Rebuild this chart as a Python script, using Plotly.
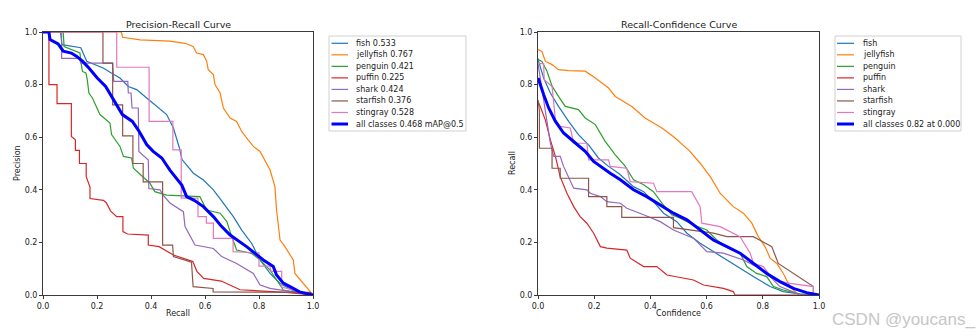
import plotly.graph_objects as go

# ---------------- data ----------------
classes = ["fish", "jellyfish", "penguin", "puffin", "shark", "starfish", "stingray"]
class_ap50 = [0.533, 0.767, 0.421, 0.225, 0.424, 0.376, 0.528]
class_colors = ["#1f77b4", "#ff7f0e", "#2ca02c", "#d62728", "#9467bd", "#8c564b", "#e377c2"]
all_map50 = 0.468
best_recall = 0.82
best_conf = 0.000

# Precision-Recall curves (recall, precision)
fish_pr_r = [0.0, 0.065, 0.07, 0.14, 0.162, 0.223, 0.253, 0.285, 0.316, 0.347, 0.384, 0.421, 0.458, 0.483, 0.495, 0.505, 0.515, 0.557, 0.594, 0.631, 0.668, 0.705, 0.736, 0.773, 0.804, 0.841, 0.878, 0.93, 1.0]
fish_pr_p = [1.0, 1.0, 0.952, 0.94, 0.889, 0.863, 0.844, 0.825, 0.793, 0.781, 0.749, 0.717, 0.686, 0.635, 0.597, 0.56, 0.515, 0.463, 0.437, 0.40, 0.349, 0.298, 0.247, 0.196, 0.133, 0.082, 0.044, 0.015, 0.0]

jelly_pr_r = [0.0, 0.29, 0.295, 0.36, 0.47, 0.526, 0.556, 0.569, 0.594, 0.606, 0.612, 0.631, 0.637, 0.656, 0.668, 0.693, 0.717, 0.736, 0.754, 0.779, 0.804, 0.822, 0.841, 0.859, 0.865, 0.878, 0.896, 0.927, 0.933, 1.0]
jelly_pr_p = [1.0, 1.0, 0.98, 0.97, 0.965, 0.957, 0.945, 0.92, 0.914, 0.889, 0.857, 0.838, 0.80, 0.768, 0.711, 0.673, 0.66, 0.622, 0.597, 0.565, 0.546, 0.51, 0.475, 0.412, 0.323, 0.209, 0.184, 0.133, 0.082, 0.0]

peng_pr_r = [0.0, 0.075, 0.078, 0.137, 0.14, 0.146, 0.159, 0.164, 0.17, 0.183, 0.211, 0.248, 0.254, 0.285, 0.298, 0.328, 0.335, 0.371, 0.396, 0.414, 0.458, 0.581, 0.606, 0.656, 0.681, 0.693, 0.717, 0.773, 0.804, 0.841, 0.89, 1.0]
peng_pr_p = [1.0, 1.0, 0.945, 0.92, 0.889, 0.85, 0.844, 0.819, 0.768, 0.749, 0.686, 0.654, 0.61, 0.565, 0.527, 0.521, 0.482, 0.45, 0.425, 0.393, 0.38, 0.374, 0.323, 0.311, 0.279, 0.241, 0.171, 0.158, 0.133, 0.095, 0.019, 0.0]

puffin_pr_r = [0.0, 0.022, 0.022, 0.052, 0.052, 0.105, 0.105, 0.12, 0.12, 0.135, 0.135, 0.16, 0.16, 0.174, 0.174, 0.224, 0.235, 0.25, 0.273, 0.296, 0.296, 0.313, 0.39, 0.39, 0.43, 0.45, 0.483, 0.555, 0.57, 0.595, 0.66, 0.70, 0.73, 0.9, 1.0]
puffin_pr_p = [1.0, 1.0, 0.80, 0.80, 0.728, 0.728, 0.603, 0.59, 0.55, 0.55, 0.50, 0.50, 0.45, 0.41, 0.367, 0.36, 0.35, 0.32, 0.298, 0.298, 0.241, 0.232, 0.228, 0.19, 0.184, 0.171, 0.152, 0.127, 0.09, 0.063, 0.053, 0.034, 0.02, 0.01, 0.0]

shark_pr_r = [0.0, 0.069, 0.069, 0.135, 0.14, 0.258, 0.262, 0.314, 0.316, 0.326, 0.33, 0.353, 0.355, 0.39, 0.392, 0.433, 0.445, 0.47, 0.52, 0.526, 0.563, 0.631, 0.662, 0.717, 0.779, 0.804, 0.841, 1.0]
shark_pr_p = [1.0, 1.0, 0.90, 0.90, 0.882, 0.882, 0.812, 0.812, 0.768, 0.768, 0.711, 0.711, 0.546, 0.513, 0.405, 0.40, 0.38, 0.35, 0.317, 0.26, 0.19, 0.177, 0.146, 0.12, 0.082, 0.038, 0.025, 0.0]

star_pr_r = [0.0, 0.222, 0.222, 0.258, 0.258, 0.295, 0.295, 0.333, 0.333, 0.371, 0.371, 0.443, 0.443, 0.48, 0.483, 0.55, 0.556, 0.63, 0.63, 0.99, 1.0]
star_pr_p = [1.0, 1.0, 0.882, 0.882, 0.723, 0.723, 0.605, 0.605, 0.50, 0.50, 0.43, 0.43, 0.19, 0.19, 0.146, 0.125, 0.032, 0.025, 0.012, 0.01, 0.0]

sting_pr_r = [0.0, 0.273, 0.273, 0.393, 0.393, 0.481, 0.481, 0.512, 0.512, 0.574, 0.574, 0.605, 0.605, 0.631, 0.631, 0.704, 0.704, 0.80, 0.80, 0.84, 0.845, 0.884, 0.884, 1.0]
sting_pr_p = [1.0, 1.0, 0.866, 0.866, 0.66, 0.66, 0.552, 0.552, 0.368, 0.368, 0.298, 0.298, 0.273, 0.273, 0.215, 0.215, 0.165, 0.16, 0.11, 0.11, 0.09, 0.09, 0.03, 0.0]

all_pr_r = [0.0, 0.022, 0.026, 0.056, 0.075, 0.105, 0.125, 0.146, 0.17, 0.201, 0.232, 0.263, 0.294, 0.331, 0.356, 0.384, 0.408, 0.44, 0.47, 0.514, 0.532, 0.56, 0.594, 0.631, 0.66, 0.693, 0.754, 0.816, 0.853, 0.865, 0.89, 0.927, 0.95, 1.0]
all_pr_p = [1.0, 1.0, 0.971, 0.955, 0.927, 0.92, 0.907, 0.889, 0.863, 0.825, 0.793, 0.737, 0.686, 0.66, 0.622, 0.572, 0.546, 0.521, 0.475, 0.418, 0.374, 0.36, 0.336, 0.298, 0.262, 0.228, 0.184, 0.133, 0.108, 0.076, 0.045, 0.025, 0.012, 0.0]

# Recall-Confidence curves (confidence, recall)
fish_rc_c = [0.0, 0.002, 0.02, 0.044, 0.073, 0.109, 0.144, 0.18, 0.215, 0.25, 0.29, 0.34, 0.376, 0.411, 0.447, 0.494, 0.53, 0.577, 0.624, 0.671, 0.731, 0.778, 0.826, 0.873, 0.93, 1.0]
fish_rc_r = [0.90, 0.889, 0.825, 0.768, 0.717, 0.66, 0.61, 0.571, 0.521, 0.49, 0.46, 0.412, 0.393, 0.355, 0.311, 0.279, 0.235, 0.197, 0.165, 0.133, 0.095, 0.063, 0.032, 0.013, 0.004, 0.0]

jelly_rc_c = [0.0, 0.014, 0.026, 0.05, 0.073, 0.109, 0.168, 0.204, 0.251, 0.275, 0.334, 0.381, 0.441, 0.488, 0.541, 0.577, 0.613, 0.648, 0.695, 0.731, 0.761, 0.784, 0.808, 0.826, 0.85, 0.873, 0.897, 0.921, 0.935]
jelly_rc_r = [0.933, 0.926, 0.889, 0.876, 0.857, 0.853, 0.851, 0.825, 0.787, 0.755, 0.717, 0.673, 0.635, 0.597, 0.546, 0.501, 0.45, 0.387, 0.336, 0.311, 0.273, 0.222, 0.184, 0.14, 0.12, 0.082, 0.032, 0.006, 0.0]

peng_rc_c = [0.0, 0.014, 0.032, 0.05, 0.073, 0.097, 0.144, 0.168, 0.204, 0.239, 0.275, 0.31, 0.34, 0.376, 0.411, 0.441, 0.476, 0.506, 0.553, 0.601, 0.636, 0.678, 0.719, 0.743, 0.778, 0.814, 0.838, 0.873, 0.921, 0.94]
peng_rc_r = [0.895, 0.888, 0.851, 0.794, 0.755, 0.717, 0.705, 0.673, 0.648, 0.584, 0.533, 0.49, 0.438, 0.419, 0.393, 0.349, 0.305, 0.292, 0.266, 0.247, 0.209, 0.178, 0.159, 0.108, 0.082, 0.07, 0.032, 0.019, 0.006, 0.0]

puffin_rc_c = [0.0, 0.008, 0.026, 0.044, 0.062, 0.079, 0.103, 0.127, 0.15, 0.174, 0.198, 0.222, 0.245, 0.316, 0.328, 0.376, 0.423, 0.459, 0.553, 0.589, 0.66, 0.695, 0.701, 1.0]
puffin_rc_r = [0.736, 0.717, 0.666, 0.59, 0.527, 0.45, 0.387, 0.336, 0.298, 0.273, 0.235, 0.184, 0.178, 0.171, 0.14, 0.108, 0.108, 0.076, 0.057, 0.038, 0.025, 0.013, 0.0, 0.0]

shark_rc_c = [0.0, 0.02, 0.032, 0.044, 0.056, 0.079, 0.091, 0.109, 0.127, 0.174, 0.186, 0.222, 0.245, 0.293, 0.316, 0.376, 0.435, 0.482, 0.553, 0.601, 0.66, 0.731, 0.778, 0.826, 0.861, 0.921, 0.935]
shark_rc_r = [0.88, 0.742, 0.654, 0.577, 0.527, 0.527, 0.489, 0.444, 0.406, 0.40, 0.387, 0.374, 0.355, 0.349, 0.33, 0.305, 0.279, 0.247, 0.216, 0.165, 0.159, 0.133, 0.108, 0.07, 0.032, 0.006, 0.0]

star_rc_c = [0.0, 0.005, 0.005, 0.05, 0.05, 0.079, 0.079, 0.18, 0.18, 0.245, 0.245, 0.298, 0.298, 0.482, 0.482, 0.60, 0.624, 0.672, 0.766, 0.832, 0.855, 0.98, 0.98]
star_rc_r = [0.742, 0.70, 0.558, 0.558, 0.482, 0.482, 0.444, 0.444, 0.374, 0.374, 0.336, 0.336, 0.295, 0.295, 0.256, 0.24, 0.235, 0.222, 0.222, 0.184, 0.12, 0.032, 0.0]

sting_rc_c = [0.0, 0.02, 0.022, 0.05, 0.062, 0.079, 0.115, 0.127, 0.174, 0.18, 0.251, 0.257, 0.316, 0.328, 0.411, 0.423, 0.547, 0.577, 0.583, 0.648, 0.719, 0.755, 0.767, 0.802, 0.838, 0.897, 0.98, 0.98]
sting_rc_r = [0.88, 0.88, 0.819, 0.793, 0.666, 0.641, 0.635, 0.577, 0.577, 0.514, 0.514, 0.489, 0.482, 0.431, 0.425, 0.393, 0.393, 0.336, 0.273, 0.26, 0.222, 0.159, 0.12, 0.108, 0.057, 0.044, 0.032, 0.0]

all_rc_c = [0.0, 0.002, 0.02, 0.038, 0.062, 0.091, 0.133, 0.168, 0.198, 0.233, 0.257, 0.293, 0.34, 0.387, 0.435, 0.482, 0.53, 0.577, 0.624, 0.672, 0.719, 0.767, 0.814, 0.861, 0.909, 0.956, 1.0]
all_rc_r = [0.825, 0.82, 0.762, 0.711, 0.66, 0.616, 0.578, 0.546, 0.508, 0.48, 0.463, 0.438, 0.40, 0.374, 0.343, 0.311, 0.286, 0.247, 0.209, 0.184, 0.159, 0.12, 0.082, 0.051, 0.025, 0.009, 0.0]

pr_x = [fish_pr_r, jelly_pr_r, peng_pr_r, puffin_pr_r, shark_pr_r, star_pr_r, sting_pr_r]
pr_y = [fish_pr_p, jelly_pr_p, peng_pr_p, puffin_pr_p, shark_pr_p, star_pr_p, sting_pr_p]
rc_x = [fish_rc_c, jelly_rc_c, peng_rc_c, puffin_rc_c, shark_rc_c, star_rc_c, sting_rc_c]
rc_y = [fish_rc_r, jelly_rc_r, peng_rc_r, puffin_rc_r, shark_rc_r, star_rc_r, sting_rc_r]

# ---------------- figure ----------------
W, H = 980, 336
FONT = "DejaVu Sans"
TXT = "#1a1a1a"
THIN = 1.2

fig = go.Figure()

for i, name in enumerate(classes):
    fig.add_trace(go.Scatter(x=pr_x[i], y=pr_y[i], mode="lines", name=f"{name} {class_ap50[i]:.3f}",
                             line=dict(color=class_colors[i], width=THIN), xaxis="x", yaxis="y",
                             showlegend=False))
fig.add_trace(go.Scatter(x=all_pr_r, y=all_pr_p, mode="lines", name=f"all classes {all_map50:.3f} mAP@0.5",
                         line=dict(color="blue", width=3), xaxis="x", yaxis="y", showlegend=False))

for i, name in enumerate(classes):
    fig.add_trace(go.Scatter(x=rc_x[i], y=rc_y[i], mode="lines", name=name,
                             line=dict(color=class_colors[i], width=THIN), xaxis="x2", yaxis="y2",
                             showlegend=False))
fig.add_trace(go.Scatter(x=all_rc_c, y=all_rc_r, mode="lines",
                         name=f"all classes {best_recall:.2f} at {best_conf:.3f}",
                         line=dict(color="blue", width=3), xaxis="x2", yaxis="y2", showlegend=False))


def px(x):
    return x / W


def py(y):
    return 1 - y / H


axis_common = dict(range=[0, 1], dtick=0.2, tick0=0, tickformat=".1f", showgrid=False, zeroline=False,
                   showline=True, linecolor="#3a3a3a", linewidth=1, mirror=True, ticks="outside",
                   ticklen=3, tickwidth=1, tickcolor="#3a3a3a", automargin=False,
                   tickfont=dict(family=FONT, size=8, color=TXT))

fig.update_layout(
    width=W, height=H, margin=dict(l=0, r=0, t=0, b=0),
    paper_bgcolor="white", plot_bgcolor="white",
    font=dict(family=FONT, size=8, color=TXT),
    xaxis=dict(domain=[px(43), px(313)], anchor="y", **axis_common),
    yaxis=dict(domain=[py(295), py(32)], anchor="x", **axis_common),
    xaxis2=dict(domain=[px(538), px(819)], anchor="y2", **axis_common),
    yaxis2=dict(domain=[py(295), py(32)], anchor="x2", **axis_common),
)

annotations = []
shapes = []


def add_text(text, x, y, size=8, angle=0, xanchor="center", color=TXT, family=FONT):
    annotations.append(dict(text=text, x=px(x), y=py(y), xref="paper", yref="paper", showarrow=False,
                            xanchor=xanchor, yanchor="middle", textangle=angle,
                            font=dict(family=family, size=size, color=color)))


# subplot titles and axis titles
add_text("Precision-Recall Curve", 178, 25, size=9.5)
add_text("Recall-Confidence Curve", 678.5, 25, size=9.5)
add_text("Recall", 178, 313.5)
add_text("Confidence", 678.5, 313.5)
add_text("Precision", 17.5, 163.5, angle=-90)
add_text("Recall", 512.5, 163.5, angle=-90)


def add_legend(box, line_x, text_x, labels, colors, widths):
    x0, y0, x1, y1 = box
    shapes.append(dict(type="rect", xref="paper", yref="paper", x0=px(x0), x1=px(x1), y0=py(y1), y1=py(y0),
                       line=dict(color="#d0d0d0", width=1), fillcolor="rgba(255,255,255,0.8)", layer="above"))
    first, step = 43.3, 11.53
    for k, (lab, col, wd) in enumerate(zip(labels, colors, widths)):
        yy = first + k * step
        shapes.append(dict(type="line", xref="paper", yref="paper", x0=px(line_x[0]), x1=px(line_x[1]),
                           y0=py(yy), y1=py(yy), line=dict(color=col, width=wd), layer="above"))
        add_text(lab, text_x, yy, xanchor="left")


pr_labels = [f"{c} {a:.3f}" for c, a in zip(classes, class_ap50)] + [f"all classes {all_map50:.3f} mAP@0.5"]
rc_labels = list(classes) + [f"all classes {best_recall:.2f} at {best_conf:.3f}"]
leg_colors = class_colors + ["blue"]
leg_widths = [THIN] * len(classes) + [3]

add_legend((329, 36, 466, 131), (331.5, 348), 354, pr_labels, leg_colors, leg_widths)
add_legend((835, 36, 961, 131), (837, 854), 860.5, rc_labels, leg_colors, leg_widths)

# watermark
add_text("CSDN @youcans_", 977, 319, size=17, xanchor="right", color="#c6c6c6", family="Liberation Sans")

fig.update_layout(annotations=annotations, shapes=shapes)

fig.write_html("out.html")
